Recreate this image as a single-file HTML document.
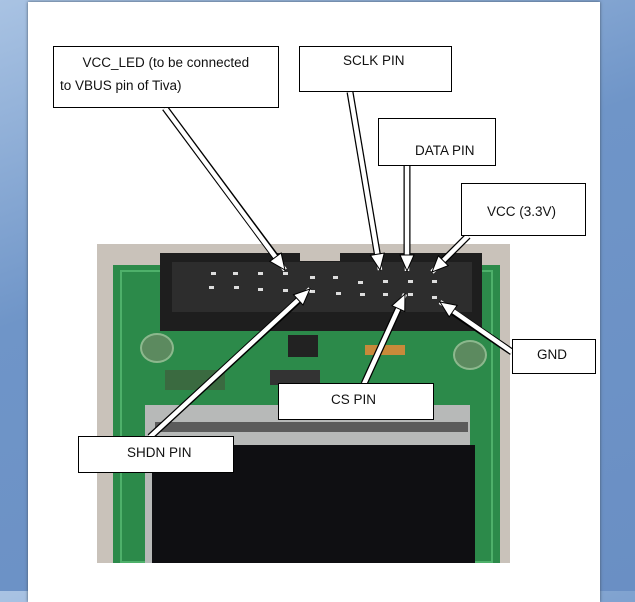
<!DOCTYPE html>
<html><head><style>
body{margin:0;width:635px;height:591px;overflow:hidden;background:linear-gradient(160deg,#a9c3e3 0%,#6f95c8 40%,#6a8fc4 100%);position:relative;font-family:"Liberation Sans",sans-serif}
.page{position:absolute;left:28px;top:2px;width:572px;height:600px;background:#fff;box-shadow:0 0 3px #456}
.a{position:absolute}
.box{position:absolute;background:#fff;border:1.3px solid #000;box-sizing:border-box;font-size:13.5px;color:#111}
</style></head><body>
<div class="page"></div>
<div class="a" style="left:97px;top:244px;width:413px;height:319px;background:#c9c2ba"></div>
<div class="a" style="left:113px;top:265px;width:387px;height:298px;background:#2c8a4a"></div>
<div class="a" style="left:120px;top:270px;width:373px;height:293px;border:2px solid #4eb06a;box-sizing:border-box"></div>
<div class="a" style="left:160px;top:253px;width:322px;height:78px;background:#1e1e1e"></div>
<div class="a" style="left:172px;top:262px;width:300px;height:50px;background:#2d2d2d"></div>
<div class="a" style="left:300px;top:253px;width:40px;height:8px;background:#c9c2ba"></div>
<div class="a" style="left:140px;top:333px;width:30px;height:26px;border-radius:50%;background:#5c8a5f;border:2px solid #8cb88d"></div>
<div class="a" style="left:453px;top:340px;width:30px;height:26px;border-radius:50%;background:#5c8a5f;border:2px solid #8cb88d"></div>
<div class="a" style="left:288px;top:335px;width:30px;height:22px;background:#222"></div>
<div class="a" style="left:365px;top:345px;width:40px;height:10px;background:#c78a3a"></div>
<div class="a" style="left:165px;top:370px;width:60px;height:20px;background:#3a6a40"></div>
<div class="a" style="left:270px;top:370px;width:50px;height:15px;background:#333"></div>
<div class="a" style="left:145px;top:405px;width:325px;height:158px;background:#b7b9b8"></div>
<div class="a" style="left:155px;top:422px;width:313px;height:10px;background:#5b5b5b"></div>
<div class="a" style="left:152px;top:445px;width:323px;height:118px;background:#0f0f12"></div>
<svg class="a" style="left:0;top:0" width="635" height="591">
<g fill="#ddd">
<rect x="211" y="272" width="5" height="3"/><rect x="233" y="272" width="5" height="3"/><rect x="258" y="272" width="5" height="3"/><rect x="283" y="272" width="5" height="3"/><rect x="310" y="276" width="5" height="3"/><rect x="333" y="276" width="5" height="3"/><rect x="358" y="281" width="5" height="3"/><rect x="383" y="280" width="5" height="3"/><rect x="408" y="280" width="5" height="3"/><rect x="432" y="280" width="5" height="3"/>
<rect x="209" y="286" width="5" height="3"/><rect x="234" y="286" width="5" height="3"/><rect x="258" y="288" width="5" height="3"/><rect x="283" y="289" width="5" height="3"/><rect x="310" y="290" width="5" height="3"/><rect x="336" y="292" width="5" height="3"/><rect x="360" y="293" width="5" height="3"/><rect x="383" y="293" width="5" height="3"/><rect x="408" y="293" width="5" height="3"/><rect x="432" y="296" width="5" height="3"/>
</g>
<defs><marker id="h" markerUnits="userSpaceOnUse" markerWidth="20" markerHeight="18" refX="17" refY="8" orient="auto"><path d="M1,1 L17,8 L1,15 Z" fill="#fff" stroke="#000" stroke-width="1"/></marker></defs>
<g stroke-linecap="butt">
<g stroke="#000" stroke-width="7">
<line x1="165" y1="108" x2="278" y2="260"/><line x1="350" y1="92" x2="378" y2="258"/><line x1="407" y1="166" x2="407" y2="258"/><line x1="468" y1="236" x2="440" y2="264"/><line x1="512" y1="352" x2="450" y2="310"/><line x1="364" y1="384" x2="400" y2="305"/><line x1="150" y1="437" x2="302" y2="297"/>
</g>
<g stroke="#fff" stroke-width="4.5" marker-end="url(#h)">
<line x1="165" y1="108" x2="285" y2="270"/><line x1="350" y1="92" x2="380" y2="270"/><line x1="407" y1="166" x2="407" y2="271"/><line x1="468" y1="236" x2="432" y2="272"/><line x1="512" y1="352" x2="440" y2="302"/><line x1="364" y1="384" x2="405" y2="294"/><line x1="150" y1="437" x2="310" y2="289"/>
</g></g>
</svg>
<div class="box" style="left:53px;top:46px;width:226px;height:62px;padding:4px 0 0 6px;line-height:23px">&nbsp;&nbsp;&nbsp;&nbsp;&nbsp;&nbsp;VCC_LED (to be connected<br>to VBUS pin of Tiva)</div>
<div class="box" style="left:299px;top:46px;width:153px;height:46px;padding:6px 0 0 43px">SCLK PIN</div>
<div class="box" style="left:378px;top:118px;width:118px;height:48px;padding:24px 0 0 36px">DATA PIN</div>
<div class="box" style="left:461px;top:183px;width:125px;height:53px;padding:20px 0 0 25px">VCC (3.3V)</div>
<div class="box" style="left:512px;top:339px;width:84px;height:35px;padding:7px 0 0 24px">GND</div>
<div class="box" style="left:278px;top:383px;width:156px;height:37px;padding:8px 0 0 52px">CS PIN</div>
<div class="box" style="left:78px;top:436px;width:156px;height:37px;padding:8px 0 0 48px">SHDN PIN</div>
</body></html>
